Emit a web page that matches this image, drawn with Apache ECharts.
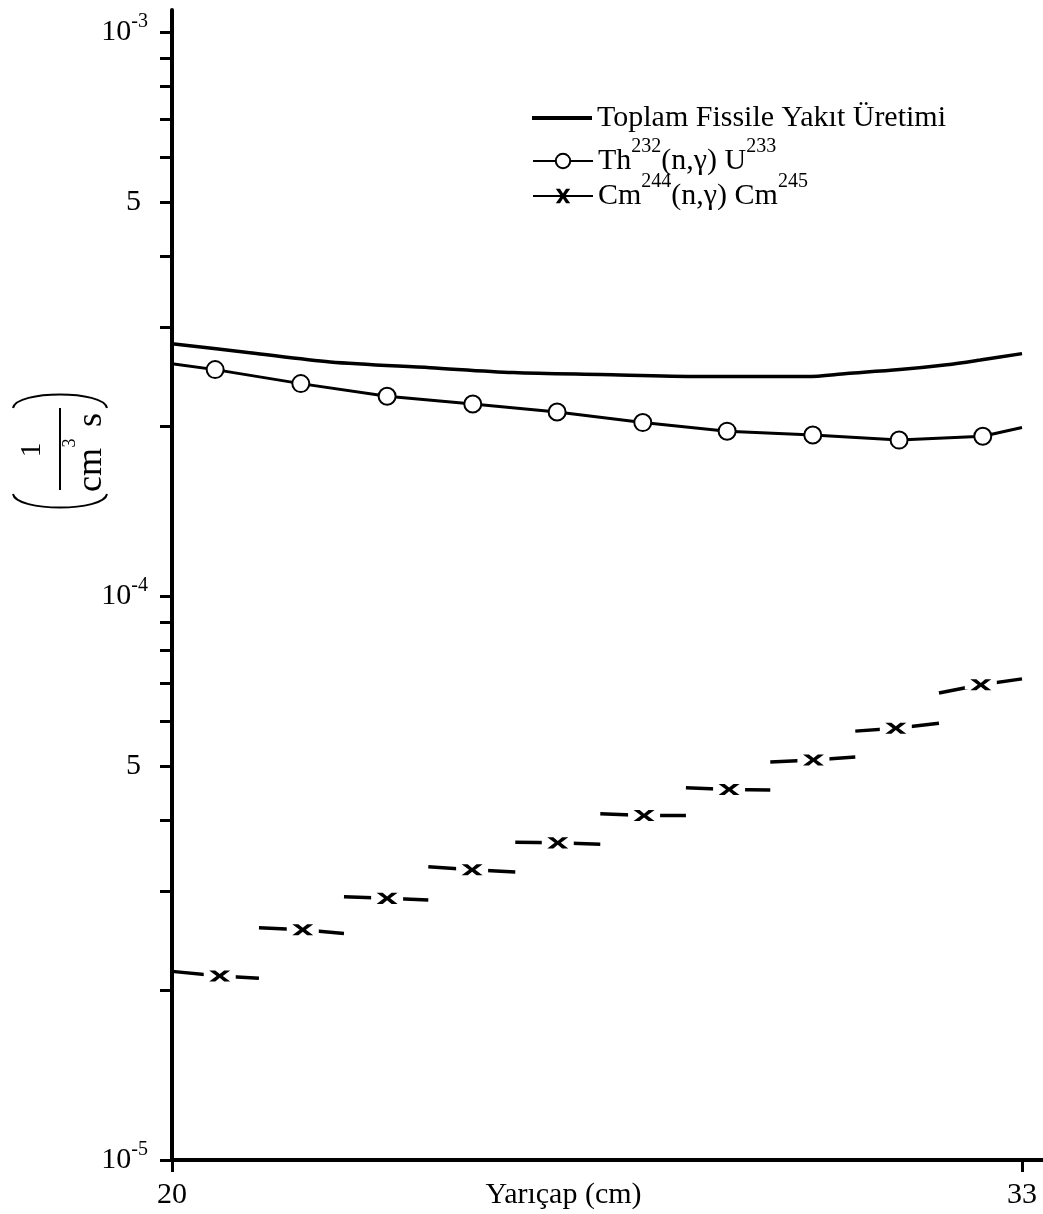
<!DOCTYPE html>
<html><head><meta charset="utf-8">
<script src="https://cdn.jsdelivr.net/npm/echarts@6/dist/echarts.min.js"></script>
<style>html,body{margin:0;padding:0;background:#fff}#c{width:1043px;height:1214px}</style>
</head><body><div id="c"></div>
<script>
// ---- data ----
const seriesNames = ['Toplam Fissile Yakıt Üretimi', 'Th232(n,γ) U233', 'Cm244(n,γ) Cm245'];

const totalX = [20, 21.19, 22.42, 23.95, 25.22, 26.55, 28.08, 29.71, 30.32, 31.13, 31.85, 32.36, 33];
const totalY = [2.80e-4, 2.70e-4, 2.60e-4, 2.54e-4, 2.49e-4, 2.47e-4, 2.45e-4, 2.45e-4, 2.48e-4, 2.52e-4, 2.57e-4, 2.62e-4, 2.69e-4];

const thX = [20, 20.66, 21.97, 23.29, 24.60, 25.89, 27.20, 28.49, 29.80, 31.12, 32.40, 33];
const thY = [2.58e-4, 2.52e-4, 2.38e-4, 2.26e-4, 2.19e-4, 2.12e-4, 2.03e-4, 1.96e-4, 1.93e-4, 1.89e-4, 1.92e-4, 1.99e-4];

const cmX = [20.73, 22.00, 23.29, 24.59, 25.90, 27.22, 28.52, 29.81, 31.07, 32.37];
const cmY = [2.12e-5, 2.56e-5, 2.91e-5, 3.27e-5, 3.65e-5, 4.08e-5, 4.54e-5, 5.12e-5, 5.83e-5, 6.96e-5];
const cmEdges = [20, 21.33, 22.63, 23.92, 25.25, 26.55, 27.86, 29.15, 30.45, 31.73, 33];
const cmLeftY = [2.16e-5, 2.58e-5, 2.93e-5, 3.31e-5, 3.66e-5, 4.11e-5, 4.57e-5, 5.08e-5, 5.76e-5, 6.73e-5];
const cmRightY = [2.10e-5, 2.52e-5, 2.89e-5, 3.24e-5, 3.63e-5, 4.08e-5, 4.53e-5, 5.18e-5, 5.95e-5, 7.13e-5];

const xTickValues = [20, 33];
const yTickValues = [1e-5, 2e-5, 3e-5, 4e-5, 5e-5, 6e-5, 7e-5, 8e-5, 9e-5,
                     1e-4, 2e-4, 3e-4, 4e-4, 5e-4, 6e-4, 7e-4, 8e-4, 9e-4, 1e-3];
const yLabelValues = [1e-5, 5e-5, 1e-4, 5e-4, 1e-3];
const xName = 'Yarıçap (cm)';

// ---- build ----
const FONT = 'Liberation Serif';
const totalData = totalX.map((x, i) => [x, totalY[i]]);
const thData = thX.map((x, i) => [x, thY[i]]);
const cmMarks = cmX.map((x, i) => [x, cmY[i]]);
const cmData = [];
cmX.forEach((x, k) => {
  cmData.push([cmEdges[k], cmLeftY[k]]);
  cmData.push([x, cmY[k]]);
  cmData.push([cmEdges[k + 1], cmRightY[k]]);
  if (k < cmX.length - 1) cmData.push([cmEdges[k + 1], '-']);
});
const crossPath = 'path://M0,0 L5.5,0 L9.5,4.6 L13.5,0 L19,0 L12.3,7 L19,14 L13.5,14 L9.5,9.4 L5.5,14 L0,14 L6.7,7 Z';

const supRich = {
  sup: { fontSize: 20, fontFamily: FONT, color: '#000', lineHeight: 20, padding: [0, 0, 28, 0] }
};
function legendFmt(name) {
  if (name === seriesNames[1]) return 'Th{sup|232}(n,γ) U{sup|233}';
  if (name === seriesNames[2]) return 'Cm{sup|244}(n,γ) Cm{sup|245}';
  return name;
}
const legendBase = {
  orient: 'vertical', left: 532, padding: 0, itemWidth: 60, selectedMode: false,
  textStyle: { fontFamily: FONT, fontSize: 30, color: '#000', lineHeight: 34, rich: supRich },
  formatter: legendFmt
};

const chart = echarts.init(document.getElementById('c'), null, { renderer: 'canvas' });
chart.setOption({
  backgroundColor: '#fff',
  animation: false,
  grid: { left: 172, right: 0, top: 10, bottom: 54, containLabel: false, outerBoundsMode: 'none' },
  legend: [
    Object.assign({}, legendBase, { data: [seriesNames[0]], top: 101, itemHeight: 4, icon: 'rect' }),
    Object.assign({}, legendBase, { data: [seriesNames[1]], top: 137, itemHeight: 18 }),
    Object.assign({}, legendBase, { data: [seriesNames[2]], top: 172, itemHeight: 18 })
  ],
  xAxis: {
    type: 'value', min: 20, max: 33.321,
    splitLine: { show: false },
    axisLine: { lineStyle: { color: '#000', width: 4 } },
    axisTick: { customValues: xTickValues, length: 12, lineStyle: { color: '#000', width: 3 } },
    axisLabel: { customValues: xTickValues, margin: 20, fontFamily: FONT, fontSize: 30, color: '#000' },
    name: xName, nameLocation: 'middle', nameGap: 20, nameMoveOverlap: false,
    nameTextStyle: { fontFamily: FONT, fontSize: 30, color: '#000', verticalAlign: 'top', padding: [0, 88, 0, 0] }
  },
  yAxis: {
    type: 'log', logBase: 10, min: 1e-5, max: 1.094e-3,
    splitLine: { show: false },
    axisLine: { lineStyle: { color: '#000', width: 4 } },
    axisTick: { customValues: yTickValues, length: 12, lineStyle: { color: '#000', width: 3 } },
    axisLabel: {
      customValues: yLabelValues, margin: 24, fontFamily: FONT, fontSize: 30, color: '#000',
      formatter: function (v) {
        const e = Math.floor(Math.log10(v) + 1e-9);
        const m = Math.round(v / Math.pow(10, e));
        if (m === 1) return '{b|10}{e|' + e + '}';
        return '{f|' + m + '}';
      },
      rich: {
        b: { fontFamily: FONT, fontSize: 30, color: '#000' },
        e: { fontFamily: FONT, fontSize: 20, color: '#000', lineHeight: 20, padding: [0, 0, 20, 0] },
        f: { fontFamily: FONT, fontSize: 30, color: '#000', padding: [0, 7, 0, 0] }
      }
    }
  },
  series: [
    {
      name: seriesNames[0], type: 'line', data: totalData, smooth: 0.3,
      symbol: 'none', lineStyle: { color: '#000', width: 3.5 }, itemStyle: { color: '#000' }
    },
    {
      name: seriesNames[1], type: 'line', data: thData,
      symbol: 'emptyCircle', showSymbol: true, showAllSymbol: true,
      symbolSize: function (v, p) { return (p.dataIndex === 0 || p.dataIndex === thX.length - 1) ? 0 : 17; },
      lineStyle: { color: '#000', width: 3 },
      itemStyle: { color: '#000', borderColor: '#000', borderWidth: 3.5 }
    },
    {
      name: seriesNames[2], type: 'line', data: cmData, connectNulls: false,
      symbol: crossPath, showSymbol: true, showAllSymbol: true, symbolKeepAspect: true,
      symbolSize: 0,
      lineStyle: { color: '#000', width: 3.5 },
      itemStyle: { color: '#000' }
    },
    {
      name: 'cmHalo', type: 'scatter', data: cmMarks, silent: true, z: 3,
      symbol: 'rect', symbolSize: [32, 9], itemStyle: { color: '#fff', opacity: 1 }
    },
    {
      name: 'cmMarks', type: 'scatter', data: cmMarks, silent: true, z: 4,
      symbol: crossPath, symbolSize: [21, 15], symbolKeepAspect: true, itemStyle: { color: '#000', opacity: 1 }
    }
  ],
  graphic: [
    { type: 'bezierCurve', shape: { x1: 13, y1: 408, x2: 107, y2: 408, cpx1: 16, cpy1: 390, cpx2: 104, cpy2: 390 },
      style: { stroke: '#000', lineWidth: 2, fill: null } },
    { type: 'bezierCurve', shape: { x1: 13, y1: 494, x2: 107, y2: 494, cpx1: 16, cpy1: 512, cpx2: 104, cpy2: 512 },
      style: { stroke: '#000', lineWidth: 2, fill: null } },
    { type: 'line', shape: { x1: 60, y1: 408, x2: 60, y2: 490 }, style: { stroke: '#000', lineWidth: 2 } },
    { type: 'text', x: 32, y: 450, rotation: Math.PI / 2,
      style: { text: '1', font: '30px "Liberation Serif"', fill: '#000', align: 'center', verticalAlign: 'middle' } },
    { type: 'text', x: 92, y: 470, rotation: Math.PI / 2,
      style: { text: 'cm', font: '36px "Liberation Serif"', fill: '#000', align: 'center', verticalAlign: 'middle' } },
    { type: 'text', x: 70, y: 443, rotation: Math.PI / 2,
      style: { text: '3', font: '18px "Liberation Serif"', fill: '#000', align: 'center', verticalAlign: 'middle' } },
    { type: 'text', x: 92, y: 420, rotation: Math.PI / 2,
      style: { text: 's', font: '36px "Liberation Serif"', fill: '#000', align: 'center', verticalAlign: 'middle' } }
  ]
});
</script></body></html>
